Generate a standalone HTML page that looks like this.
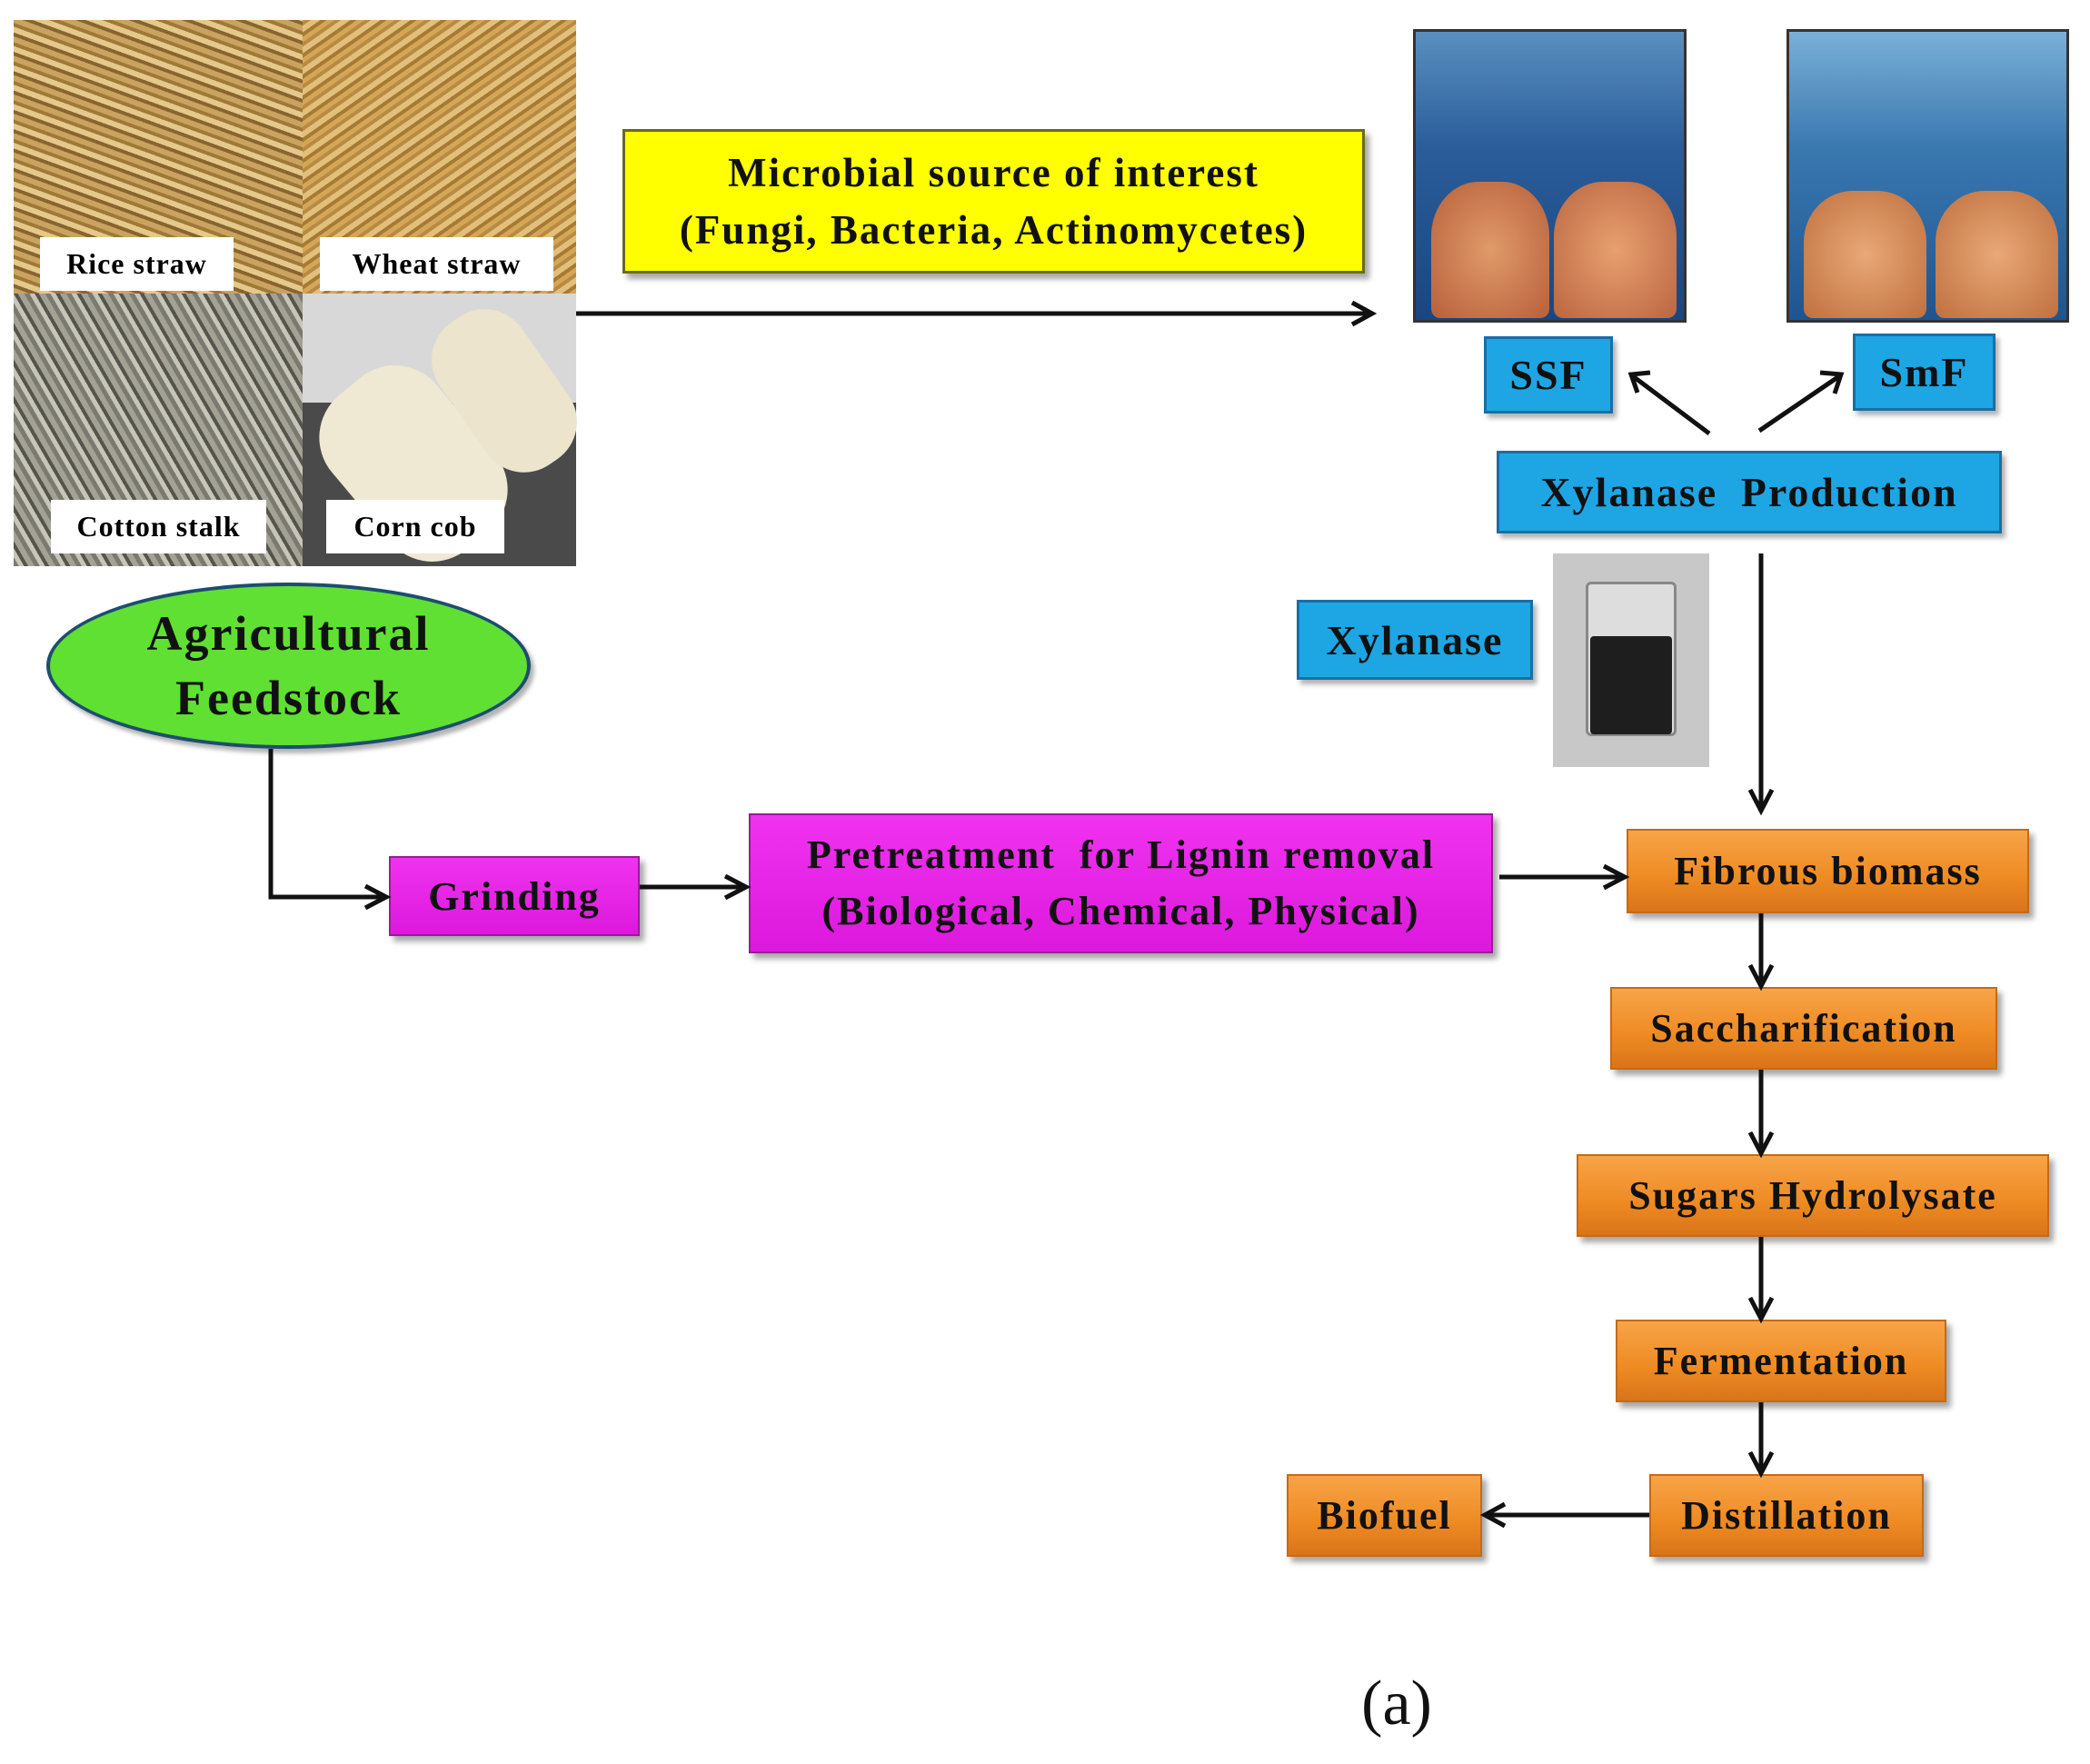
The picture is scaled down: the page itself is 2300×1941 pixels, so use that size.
<!DOCTYPE html>
<html><head><meta charset="utf-8"><style>
body{margin:0;width:2300px;height:1941px;background:#fff;position:relative;overflow:hidden;font-family:"Liberation Serif",serif;}
.a{position:absolute;box-sizing:border-box;}
.bx{position:absolute;box-sizing:border-box;display:flex;align-items:center;justify-content:center;text-align:center;font-weight:bold;color:#111;letter-spacing:2px;}
.or{background:linear-gradient(#f7a448,#ee8a22 60%,#d9741a);border:2px solid #c56a18;box-shadow:5px 6px 6px rgba(0,0,0,.35);font-size:44px;}
.bl{background:#1ea6e4;border:3px solid #1b6ea3;box-shadow:4px 5px 5px rgba(0,0,0,.3);font-size:46px;}
.mg{background:linear-gradient(#f033f0,#dc18dc);border:2px solid #9a1a9a;box-shadow:5px 6px 6px rgba(0,0,0,.35);font-size:44px;}
.lb{position:absolute;background:#fff;font-weight:bold;font-size:32px;display:flex;align-items:center;justify-content:center;box-sizing:border-box;letter-spacing:1px;}
</style></head><body>
<div class="a" style="left:15px;top:22px;width:318px;height:301px;background:repeating-linear-gradient(20deg,#c9a460 0 6px,#8a6430 6px 10px,#e4c98a 10px 16px,#a07838 16px 20px)"></div>
<div class="a" style="left:333px;top:22px;width:301px;height:301px;background:repeating-linear-gradient(-35deg,#d4a757 0 5px,#a57a36 5px 9px,#e2c07a 9px 15px,#b88a43 15px 19px)"></div>
<div class="a" style="left:15px;top:323px;width:318px;height:300px;background:repeating-linear-gradient(60deg,#7a7a70 0 5px,#c7c5b8 5px 10px,#55554d 10px 14px,#a4a294 14px 20px)"></div>
<div class="a" style="left:333px;top:323px;width:301px;height:300px;background:#4a4a4a"></div>
<div class="a" style="left:333px;top:323px;width:301px;height:120px;background:#d8d8d8"></div>
<div class="a" style="left:380px;top:400px;width:150px;height:220px;background:#efe8d2;border-radius:60px;transform:rotate(-40deg)"></div>
<div class="a" style="left:500px;top:335px;width:110px;height:190px;background:#ece4cc;border-radius:50px;transform:rotate(-35deg)"></div>
<div class="lb" style="left:44px;top:261px;width:213px;height:59px">Rice straw</div>
<div class="lb" style="left:352px;top:261px;width:257px;height:59px">Wheat straw</div>
<div class="lb" style="left:56px;top:550px;width:237px;height:59px">Cotton stalk</div>
<div class="lb" style="left:359px;top:550px;width:196px;height:59px">Corn cob</div>
<div class="a" style="left:1555px;top:32px;width:301px;height:323px;background:linear-gradient(#5a8fc0,#2a5d9a 40%,#1a4680);border:3px solid #333"></div>
<div class="a" style="left:1575px;top:200px;width:130px;height:150px;background:radial-gradient(#e09a6a,#b8603a);border-radius:40% 40% 10px 10px"></div>
<div class="a" style="left:1710px;top:200px;width:135px;height:150px;background:radial-gradient(#e8a070,#bb6640);border-radius:40% 40% 10px 10px"></div>
<div class="a" style="left:1966px;top:32px;width:311px;height:323px;background:linear-gradient(#7ab0d8,#3a78b0 40%,#1e5590);border:3px solid #333"></div>
<div class="a" style="left:1985px;top:210px;width:135px;height:140px;background:radial-gradient(#e8a878,#c0703e);border-radius:40% 40% 10px 10px"></div>
<div class="a" style="left:2130px;top:210px;width:135px;height:140px;background:radial-gradient(#e8a878,#c0703e);border-radius:40% 40% 10px 10px"></div>
<div class="a" style="left:1709px;top:609px;width:172px;height:235px;background:#c8c8c8"></div>
<div class="a" style="left:1745px;top:640px;width:100px;height:170px;border:3px solid #888;border-radius:6px;background:#ddd"></div>
<div class="a" style="left:1750px;top:700px;width:90px;height:108px;background:#1e1e1e;border-radius:4px"></div>

<div class="bx" style="left:685px;top:142px;width:817px;height:159px;background:#ffff00;border:3px solid #6a6a20;box-shadow:5px 6px 6px rgba(0,0,0,.35);font-size:45px;line-height:1.4">Microbial source of interest<br>(Fungi, Bacteria, Actinomycetes)</div>
<div class="bx bl" style="left:1633px;top:370px;width:142px;height:85px">SSF</div>
<div class="bx bl" style="left:2039px;top:367px;width:157px;height:85px">SmF</div>
<div class="bx bl" style="left:1647px;top:496px;width:556px;height:91px;word-spacing:12px">Xylanase Production</div>
<div class="bx bl" style="left:1427px;top:660px;width:260px;height:88px">Xylanase</div>
<div class="bx" style="left:51px;top:641px;width:533px;height:183px;border-radius:50%;background:#5fe032;border:4px solid #1d4d70;box-shadow:4px 5px 5px rgba(0,0,0,.3);font-size:54px;line-height:1.3">Agricultural<br>Feedstock</div>
<div class="bx mg" style="left:428px;top:942px;width:276px;height:88px">Grinding</div>
<div class="bx mg" style="left:824px;top:895px;width:819px;height:154px;line-height:1.4">Pretreatment&nbsp; for Lignin removal<br>(Biological, Chemical, Physical)</div>
<div class="bx or" style="left:1790px;top:912px;width:443px;height:93px">Fibrous biomass</div>
<div class="bx or" style="left:1772px;top:1086px;width:426px;height:91px">Saccharification</div>
<div class="bx or" style="left:1735px;top:1270px;width:520px;height:91px">Sugars Hydrolysate</div>
<div class="bx or" style="left:1778px;top:1452px;width:364px;height:91px">Fermentation</div>
<div class="bx or" style="left:1815px;top:1622px;width:302px;height:91px">Distillation</div>
<div class="bx or" style="left:1416px;top:1622px;width:215px;height:91px">Biofuel</div>
<div class="a" style="left:1437px;top:1835px;width:200px;text-align:center;font-size:70px;color:#111">(a)</div>

<svg class="a" style="left:0;top:0" width="2300" height="1941">
<g stroke="#111" stroke-width="5" fill="none">
<path d="M634,345 H1508"/>
<path d="M1881,477 L1797,414"/><path d="M1936,474 L2024,414"/>
<path d="M1938,609 V890"/>
<path d="M298,824 V987 H423"/>
<path d="M704,976 H819"/>
<path d="M1650,965 H1786"/>
<path d="M1938,1005 V1084"/><path d="M1938,1177 V1268"/><path d="M1938,1361 V1450"/><path d="M1938,1543 V1620"/>
<path d="M1815,1667 H1636"/>
<path d="M1488,333 L1510,345 L1488,357"/>
<path d="M1802,432 L1795,412 L1816,410"/>
<path d="M2003,410 L2026,412 L2019,433"/>
<path d="M1926,869 L1938,892 L1950,869"/>
<path d="M402,975 L425,987 L402,999"/>
<path d="M798,964 L821,976 L798,988"/>
<path d="M1765,953 L1788,965 L1765,977"/>
<path d="M1926,1062 L1938,1085 L1950,1062"/>
<path d="M1926,1246 L1938,1269 L1950,1246"/>
<path d="M1926,1428 L1938,1451 L1950,1428"/>
<path d="M1926,1598 L1938,1621 L1950,1598"/>
<path d="M1656,1655 L1634,1667 L1656,1679"/>
</g>
</svg>
</body></html>
